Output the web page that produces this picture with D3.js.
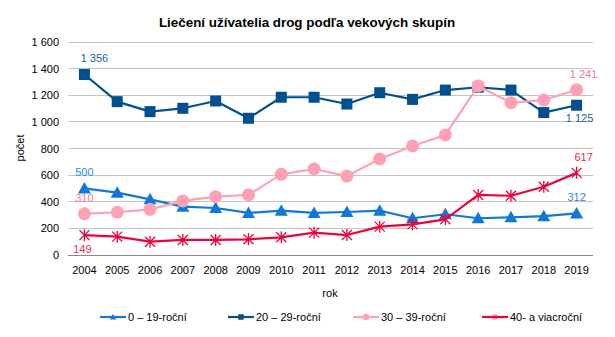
<!DOCTYPE html>
<html>
<head>
<meta charset="utf-8">
<script src="https://cdn.jsdelivr.net/npm/d3@7.9.0/dist/d3.min.js"></script>
<style>
  body { margin: 0; background: #fff; }
  svg { font-family: "Liberation Sans", Arial, sans-serif; }
</style>
</head>
<body>
<svg id="chart" width="615" height="337"></svg>
<script>
const years = ['2004', '2005', '2006', '2007', '2008', '2009', '2010', '2011',
  '2012', '2013', '2014', '2015', '2016', '2017', '2018', '2019'];
const yTicks = [0, 200, 400, 600, 800, 1000, 1200, 1400, 1600];

const age0to19 = [500, 468, 418, 363, 353, 316, 333, 316, 323, 333, 276, 306, 276, 283, 292, 312];
const age20to29 = [1356, 1152, 1077, 1102, 1157, 1027, 1185, 1185, 1134, 1219, 1169, 1239, 1260, 1239, 1070, 1125];
const age30to39 = [310, 321, 343, 406, 438, 451, 606, 646, 593, 721, 819, 902, 1270, 1144, 1164, 1241];
const age40plus = [149, 138, 100, 113, 113, 118, 133, 168, 150, 213, 230, 268, 451, 445, 513, 617];

const series = [
  { name: '0 – 19-roční', values: age0to19, color: '#0f78d8', marker: 'triangle', labelColor: '#2a8be0' },
  { name: '20 – 29-roční', values: age20to29, color: '#00508f', marker: 'square', labelColor: '#1c5fa8' },
  { name: '30 – 39-roční', values: age30to39, color: '#ffa0b4', marker: 'circle', labelColor: '#f07a92' },
  { name: '40- a viacroční', values: age40plus, color: '#e8053c', marker: 'star', labelColor: '#e0304c' }
];

const svg = d3.select('#chart');
const margin = { left: 68, right: 22, top: 42, bottom: 82 };
const width = 615, height = 337;

const x = d3.scaleBand().domain(years).range([margin.left, width - margin.right]);
const y = d3.scaleLinear().domain([0, 1600]).range([height - margin.bottom, margin.top]);
const fmt = (v) => d3.format(',')(v).replace(/,/g, ' ');
const cx = (d) => x(d) + x.bandwidth() / 2;

// title
svg.append('text')
  .attr('x', 307).attr('y', 27)
  .attr('text-anchor', 'middle')
  .attr('font-size', 13.4).attr('font-weight', 'bold')
  .text('Liečení užívatelia drog podľa vekových  skupín');

// gridlines
svg.append('g')
  .selectAll('line')
  .data(yTicks)
  .join('line')
  .attr('x1', margin.left).attr('x2', width - margin.right)
  .attr('y1', (d) => y(d)).attr('y2', (d) => y(d))
  .attr('stroke', (d) => (d === 0 ? '#888' : '#c4c4c4'))
  .attr('stroke-width', 1)
  .attr('shape-rendering', 'crispEdges');

// y axis labels
const yAxis = svg.append('g')
  .attr('transform', `translate(${margin.left - 6},0)`)
  .call(d3.axisLeft(y).tickValues(yTicks).tickFormat(fmt).tickSize(0));
yAxis.select('.domain').remove();
yAxis.selectAll('text').attr('font-size', 11).attr('fill', '#000')
  .attr('font-family', '"Liberation Sans", Arial, sans-serif');

// x axis labels
const xAxis = svg.append('g')
  .attr('transform', `translate(0,${y(0) + 8})`)
  .call(d3.axisBottom(x).tickSize(0));
xAxis.select('.domain').remove();
xAxis.selectAll('text').attr('font-size', 11).attr('fill', '#000')
  .attr('font-family', '"Liberation Sans", Arial, sans-serif');

// axis titles
svg.append('text')
  .attr('transform', 'translate(24,148) rotate(-90)')
  .attr('text-anchor', 'middle').attr('font-size', 11)
  .text('počet');
svg.append('text')
  .attr('x', 330).attr('y', 297)
  .attr('text-anchor', 'middle').attr('font-size', 11)
  .text('rok');

function drawMarker(g, type, color) {
  if (type === 'triangle') {
    g.append('path').attr('d', 'M0,-6.5L6.5,5L-6.5,5Z').attr('fill', color);
  } else if (type === 'square') {
    g.append('rect').attr('x', -5.5).attr('y', -5.5).attr('width', 11).attr('height', 11).attr('fill', color);
  } else if (type === 'circle') {
    g.append('circle').attr('r', 6.5).attr('fill', color);
  } else {
    g.append('path')
      .attr('d', 'M-5,-5L5,5M-5,5L5,-5M0,-6L0,6')
      .attr('stroke', color).attr('stroke-width', 1.3).attr('fill', 'none');
  }
}

const line = d3.line().x((d, i) => cx(years[i])).y((d) => y(d));

series.forEach((s) => {
  svg.append('path')
    .datum(s.values)
    .attr('d', line)
    .attr('fill', 'none')
    .attr('stroke', s.color)
    .attr('stroke-width', 2.2)
    .attr('stroke-linejoin', 'round');

  s.values.forEach((v, i) => {
    const g = svg.append('g').attr('transform', `translate(${cx(years[i])},${y(v)})`);
    drawMarker(g, s.marker, s.color);
  });
});

// data labels: first and last of each series
const labels = [
  { s: 0, i: 0, dx: 0, dy: -12 },
  { s: 1, i: 0, dx: 10, dy: -12 },
  { s: 2, i: 0, dx: 0, dy: -12 },
  { s: 3, i: 0, dx: -2, dy: 18 },
  { s: 0, i: 15, dx: 0, dy: -12 },
  { s: 1, i: 15, dx: 3, dy: 17 },
  { s: 2, i: 15, dx: 7, dy: -12 },
  { s: 3, i: 15, dx: 7, dy: -12 }
];
svg.append('g')
  .selectAll('text')
  .data(labels)
  .join('text')
  .attr('x', (d) => cx(years[d.i]) + d.dx)
  .attr('y', (d) => y(series[d.s].values[d.i]) + d.dy)
  .attr('text-anchor', 'middle')
  .attr('font-size', 11)
  .attr('fill', (d) => series[d.s].labelColor)
  .text((d) => fmt(series[d.s].values[d.i]));

// legend
const legendX = [100, 228, 353, 482];
const legend = svg.append('g');
series.forEach((s, i) => {
  const g = legend.append('g').attr('transform', `translate(${legendX[i]},317)`);
  g.append('line').attr('x1', 0).attr('x2', 26).attr('y1', 0).attr('y2', 0)
    .attr('stroke', s.color).attr('stroke-width', 2.2);
  const m = g.append('g').attr('transform', 'translate(13,0) scale(0.5)');
  drawMarker(m, s.marker, s.color);
  g.append('text').attr('x', 28).attr('y', 4).attr('font-size', 11).text(s.name);
});
</script>
</body>
</html>
